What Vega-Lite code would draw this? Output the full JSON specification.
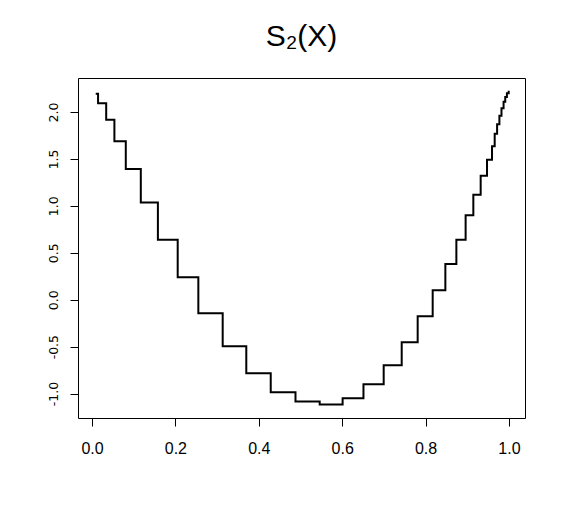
{
  "$schema": "https://vega.github.io/schema/vega-lite/v6.json",
  "width": 447,
  "height": 340,
  "autosize": {"type": "none"},
  "padding": {"left": 78, "top": 78, "right": 41, "bottom": 98},
  "background": "white",
  "config": {
    "view": {"stroke": "black", "strokeWidth": 1},
    "font": "Liberation Sans"
  },
  "title": {
    "text": "S₂(X)",
    "fontSize": 30,
    "font": "Liberation Sans",
    "fontWeight": "normal",
    "color": "black",
    "anchor": "middle",
    "baseline": "alphabetic",
    "offset": 2
  },
  "data": {
    "values": [
      {"x": 0.0089, "y": 2.195},
      {"x": 0.0145, "y": 2.092},
      {"x": 0.034, "y": 1.918},
      {"x": 0.0537, "y": 1.687},
      {"x": 0.081, "y": 1.393},
      {"x": 0.117, "y": 1.037},
      {"x": 0.158, "y": 0.64},
      {"x": 0.2055, "y": 0.239},
      {"x": 0.255, "y": -0.145},
      {"x": 0.3134, "y": -0.496},
      {"x": 0.37, "y": -0.783},
      {"x": 0.4286, "y": -0.986},
      {"x": 0.488, "y": -1.085},
      {"x": 0.546, "y": -1.115},
      {"x": 0.601, "y": -1.05},
      {"x": 0.651, "y": -0.9},
      {"x": 0.6995, "y": -0.698},
      {"x": 0.7427, "y": -0.453},
      {"x": 0.781, "y": -0.176},
      {"x": 0.817, "y": 0.1},
      {"x": 0.8474, "y": 0.381},
      {"x": 0.8738, "y": 0.64},
      {"x": 0.896, "y": 0.899},
      {"x": 0.9145, "y": 1.119},
      {"x": 0.9321, "y": 1.322},
      {"x": 0.9473, "y": 1.492},
      {"x": 0.9593, "y": 1.634},
      {"x": 0.9657, "y": 1.769},
      {"x": 0.9715, "y": 1.87},
      {"x": 0.977, "y": 1.96},
      {"x": 0.982, "y": 2.04},
      {"x": 0.987, "y": 2.11},
      {"x": 0.991, "y": 2.16},
      {"x": 0.995, "y": 2.2},
      {"x": 0.9993, "y": 2.227}
    ]
  },
  "mark": {"type": "line", "interpolate": "step-after", "color": "black", "strokeWidth": 2, "clip": true},
  "encoding": {
    "x": {
      "field": "x",
      "type": "quantitative",
      "scale": {"domain": [-0.0336, 1.0384], "nice": false, "zero": false},
      "axis": {
        "title": null,
        "values": [0, 0.2, 0.4, 0.6, 0.8, 1.0],
        "format": ".1f",
        "domain": false,
        "grid": false,
        "ticks": true,
        "tickSize": 8,
        "tickColor": "black",
        "tickWidth": 1,
        "labelFont": "Liberation Sans",
        "labelFontSize": 16,
        "labelColor": "black",
        "labelPadding": 14,
        "labelFlush": false,
        "labelOverlap": false
      }
    },
    "y": {
      "field": "y",
      "type": "quantitative",
      "scale": {"domain": [-1.26, 2.362], "nice": false, "zero": false},
      "axis": {
        "title": null,
        "values": [-1, -0.5, 0, 0.5, 1, 1.5, 2],
        "labelExpr": "replace(format(datum.value, '.1f'), '\u2212', '-')",
        "domain": false,
        "grid": false,
        "ticks": true,
        "tickSize": 8,
        "tickColor": "black",
        "tickWidth": 1,
        "labelFont": "DejaVu Sans",
        "labelFontSize": 12.5,
        "labelColor": "black",
        "labelAngle": 270,
        "labelAlign": "center",
        "labelBaseline": "alphabetic",
        "labelPadding": 13,
        "labelFlush": false,
        "labelOverlap": false
      }
    }
  }
}
